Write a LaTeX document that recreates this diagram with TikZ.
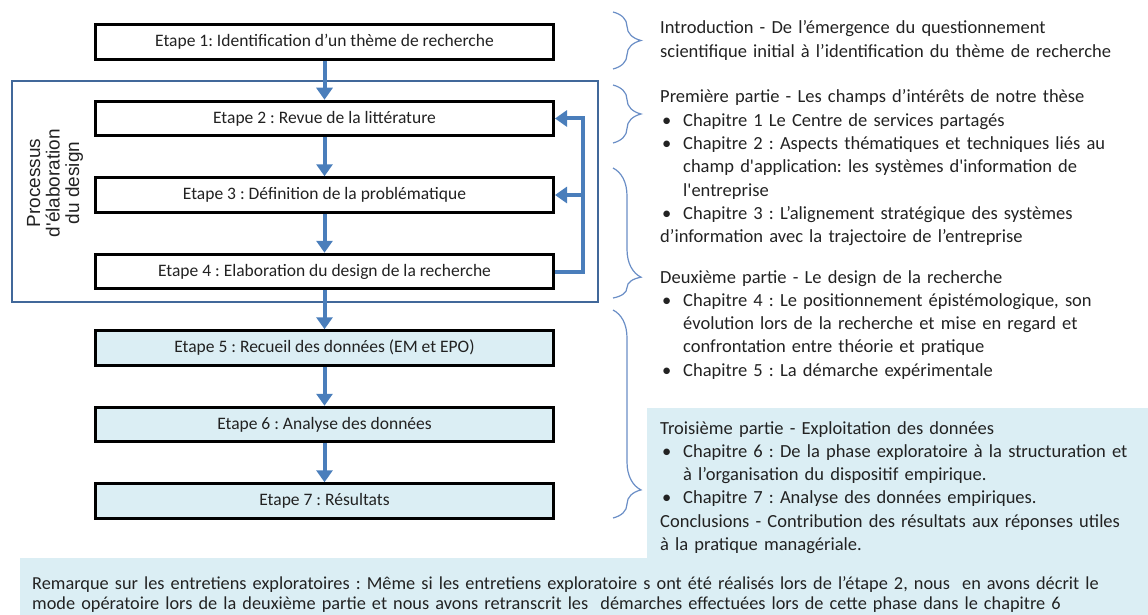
\documentclass[tikz,border=0pt]{standalone}
\usepackage{fontspec}
\setmainfont{Carlito}[Ligatures=TeXOff]
\newfontfamily\arialfont{Liberation Sans}[Ligatures=TeXOff]
\usetikzlibrary{arrows.meta,positioning,decorations.pathreplacing}
\definecolor{paleblue}{HTML}{DBEEF4}
\definecolor{arrowblue}{HTML}{4A7EBB}
\definecolor{frameblue}{HTML}{41689A}
\definecolor{braceblue}{HTML}{6A8EC6}
\definecolor{inkgrey}{HTML}{222222}
\setlength{\parindent}{0pt}
\setlength{\parskip}{0pt}
\frenchspacing
\newcommand{\puce}[1]{\par\hangindent=23pt\hangafter=1\noindent\hbox to 23pt{\hskip2pt\textbullet\hfil}#1}
\tikzset{
  stage/.style={draw=black, line width=3pt, fill=white, minimum width=458pt,
    minimum height=34.5pt, inner sep=0pt, text=inkgrey, font=\fontsize{17.5}{20}\selectfont},
  datastage/.style={stage, fill=paleblue},
  arr/.style={-{Triangle[width=16pt,length=12pt]}, line width=4pt, draw=arrowblue},
  backarr/.style={arr, sharp corners},
  designframe/.style={draw=frameblue, line width=2.5pt},
  partbrace/.style={decorate, decoration={brace, amplitude=28pt, aspect=#1},
    draw=braceblue, line width=1.2pt},
  parttext/.style={anchor=base west, text width=485pt, align=left, inner sep=0pt,
    text=inkgrey, font=\fontsize{18.5}{23.3}\selectfont}
}

\begin{document}
\begin{tikzpicture}[x=1pt, y=-1pt, node distance=39pt]
  \useasboundingbox (0,0) rectangle (1148,615);
  \fill[paleblue] (647,408) -- (1148,408) -- (1148,615) -- (20,615) -- (20,558) -- (647,558) -- cycle;
  \draw[designframe] (12,81) rectangle (598,302);

  \node[stage] (s1) at (324.5,42) {Etape 1: Identification d’un thème de recherche};
  \node[stage, below=of s1] (s2) {Etape 2 : Revue de la littérature};
  \node[stage, below=of s2] (s3) {Etape 3 : Définition de la problématique};
  \node[stage, below=of s3] (s4) {Etape 4 : Elaboration du design de la recherche};
  \node[datastage, below=of s4] (s5) {Etape 5 : Recueil des données (EM et EPO)};
  \node[datastage, below=of s5] (s6) {Etape 6 : Analyse des données};
  \node[datastage, below=of s6] (s7) {Etape 7 : Résultats};

  \node[rotate=90, align=center, text=inkgrey, font=\arialfont\fontsize{19}{19.5}\selectfont] (design) at (55,183)
    {Processus\\d'élaboration\\du design};

  \draw[arr] (s1) -- (s2);
  \draw[arr] (s2) -- (s3);
  \draw[arr] (s3) -- (s4);
  \draw[arr] (s4) -- (s5);
  \draw[arr] (s5) -- (s6);
  \draw[arr] (s6) -- (s7);

  \coordinate[right=28pt of s4.east] (turn);
  \draw[backarr] (s4.east) -- (turn) |- (s2.east);
  \draw[backarr] (turn |- s3.east) -- (s3.east);

  \draw[partbrace=0.5] (613,12) -- (613,69);
  \draw[partbrace=0.5] (613,85) -- (613,143);
  \draw[partbrace=0.84] (613,168) -- (613,298);
  \draw[partbrace=0.865] (613,310) -- (613,518);

  \node[parttext] (intro) at (660,34) {Introduction - De l’émergence du questionnement\\scientifique initial à l’identification du thème de recherche};
  \node[parttext] (part1) at (660,103) {Première partie - Les champs d’intérêts de notre thèse
    \puce{Chapitre 1 Le Centre de services partagés}
    \puce{Chapitre 2 : Aspects thématiques et techniques liés au\newline champ d'application: les systèmes d'information de\newline l'entreprise}
    \puce{Chapitre 3 : L’alignement stratégique des systèmes\newline d’information avec la trajectoire de l’entreprise}};
  \node[parttext] (part2) at (660,283) {Deuxième partie - Le design de la recherche
    \puce{Chapitre 4 : Le positionnement épistémologique, son\newline évolution lors de la recherche et mise en regard et\newline confrontation entre théorie et pratique}
    \puce{Chapitre 5 : La démarche expérimentale}};
  \node[parttext] (part3) at (660,434) {Troisième partie - Exploitation des données
    \puce{Chapitre 6 : De la phase exploratoire à la structuration et\newline à l’organisation du dispositif empirique.}
    \puce{Chapitre 7 : Analyse des données empiriques.}
    \par Conclusions - Contribution des résultats aux réponses utiles\\à la pratique managériale.};

  \node[parttext, text width=1110pt, font=\fontsize{18.3}{20.5}\selectfont] (remark) at (32,589)
    {Remarque sur les entretiens exploratoires : Même si les entretiens exploratoire s ont été réalisés lors de l’étape 2, nous\ \ en avons décrit le\\mode opératoire lors de la deuxième partie et nous avons retranscrit les\ \ démarches effectuées lors de cette phase dans le chapitre 6};
\end{tikzpicture}
\end{document}
